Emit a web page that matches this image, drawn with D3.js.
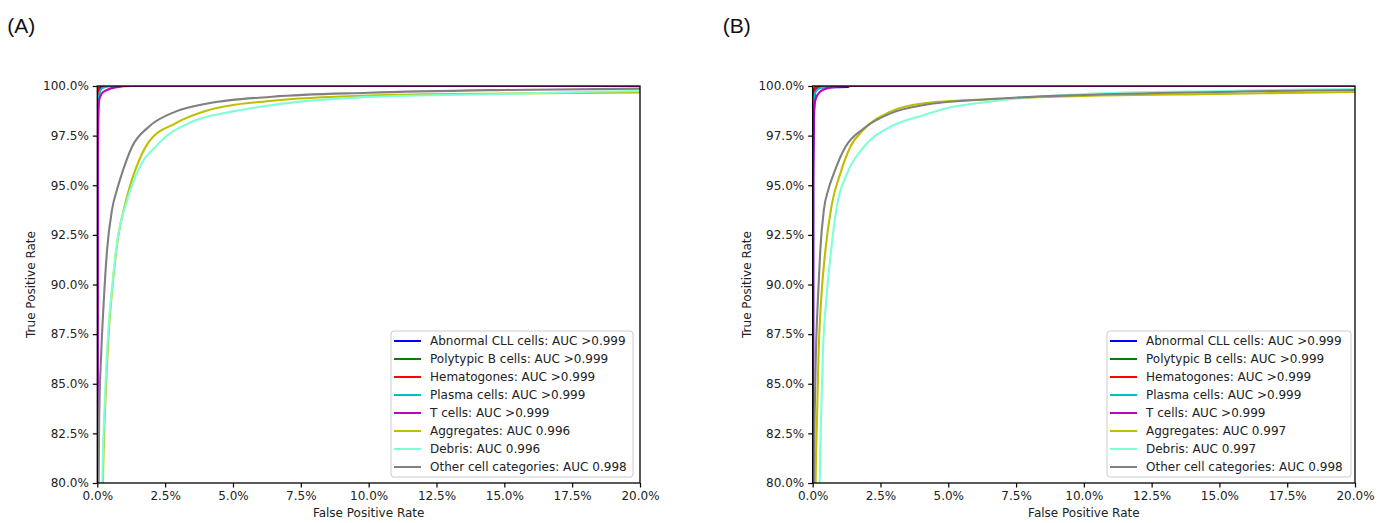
<!DOCTYPE html>
<html>
<head>
<meta charset="utf-8">
<script src="https://cdn.jsdelivr.net/npm/d3@7"></script>
<style>
  body { margin: 0; background: #fff; }
  svg { display: block; }
  text { font-family: "DejaVu Sans", sans-serif; fill: #222; }
</style>
</head>
<body>
<svg width="1388" height="523"></svg>
<script>
// class names and colours (same order in both panels)
const classNames = ['Abnormal CLL cells', 'Polytypic B cells', 'Hematogones', 'Plasma cells',
  'T cells', 'Aggregates', 'Debris', 'Other cell categories'];
const classColors = ['#0000ff', '#008000', '#ff0000', '#00bfbf', '#bf00bf', '#bfbf00', '#7fffd4', '#808080'];

const aucA = ['>0.999', '>0.999', '>0.999', '>0.999', '>0.999', '0.996', '0.996', '0.998'];
const aucB = ['>0.999', '>0.999', '>0.999', '>0.999', '>0.999', '0.997', '0.997', '0.998'];

const xTicks = [0, 2.5, 5, 7.5, 10, 12.5, 15, 17.5, 20];
const yTicks = [80, 82.5, 85, 87.5, 90, 92.5, 95, 97.5, 100];

// ROC points [FPR %, TPR %], panel A
const aCLL = [[0, 0], [0.01, 95], [0.03, 99.5], [0.08, 99.85], [0.2, 99.97], [0.4, 100], [100, 100]];
const aPoly = [[0, 0], [0.01, 97], [0.03, 99.8], [0.1, 99.97], [0.2, 100], [100, 100]];
const aHema = [[0, 0], [0.01, 98], [0.03, 99.8], [0.1, 100], [100, 100]];
const aPlasma = [[0, 0], [0.02, 96], [0.06, 99.5], [0.17, 99.88], [0.35, 99.96], [0.6, 100], [100, 100]];
const aT = [[0, 0], [0.02, 96], [0.04, 98.8], [0.07, 99.29], [0.17, 99.63], [0.36, 99.8], [0.66, 99.93], [1.28, 100], [100, 100]];
const aAgg = [[0, 0], [0.21, 80.15], [0.30, 84.18], [0.42, 87.54], [0.57, 90.06], [0.79, 92.58], [0.97, 93.75],
  [1.18, 94.85], [1.40, 95.77], [1.90, 97.19], [2.88, 98.12], [4.11, 98.79], [6.45, 99.26], [10, 99.52], [15, 99.62], [20, 99.68], [100, 100]];
const aDebris = [[0, 0], [0.19, 80.15], [0.28, 84.18], [0.40, 87.54], [0.56, 90.06], [0.78, 92.58], [0.99, 93.75],
  [1.45, 95.6], [2.26, 97.11], [3.49, 98.2], [4.97, 98.71], [6.45, 99.04], [10, 99.45], [15, 99.6], [20, 99.75], [100, 100]];
const aOther = [[0, 0], [0.05, 80.15], [0.07, 83.3], [0.15, 86.7], [0.24, 89.2], [0.36, 91.74], [0.54, 93.75],
  [0.72, 94.75], [0.91, 95.6], [1.28, 96.94], [1.90, 97.95], [2.88, 98.71], [4.11, 99.13], [6.45, 99.46], [10, 99.66], [15, 99.8], [20, 99.87], [100, 100]];

// panel B
const bCLL = [[0, 0], [0.02, 96], [0.09, 99.71], [0.22, 99.93], [1.3, 99.95], [1.35, 100], [100, 100]];
const bPoly = [[0, 0], [0.01, 98], [0.04, 99.85], [0.15, 100], [100, 100]];
const bHema = [[0, 0], [0.01, 99], [0.04, 99.7], [0.1, 99.9], [0.3, 100], [100, 100]];
const bPlasma = [[0, 0], [0.01, 97], [0.03, 99.3], [0.15, 99.8], [0.4, 99.95], [0.8, 100], [100, 100]];
const bT = [[0, 0], [0.02, 95], [0.04, 98.6], [0.1, 99.3], [0.27, 99.71], [0.52, 99.88], [0.9, 99.96], [1.5, 100], [100, 100]];
const bAgg = [[0, 0], [0.11, 80.15], [0.16, 83.3], [0.22, 86.7], [0.31, 89.2], [0.47, 91.74], [0.70, 94.0],
  [1.02, 95.6], [1.39, 96.94], [1.89, 97.82], [2.87, 98.71], [4.11, 99.13], [6.46, 99.33], [10, 99.5], [15, 99.6], [20, 99.7], [100, 100]];
const bDebris = [[0, 0], [0.26, 80.15], [0.31, 83.3], [0.38, 86.7], [0.50, 89.2], [0.68, 91.74], [0.90, 94.0],
  [1.27, 95.6], [1.89, 96.94], [2.87, 97.95], [4.11, 98.54], [5, 98.9], [6.46, 99.2], [10, 99.6], [15, 99.75], [20, 99.85], [100, 100]];
const bOther = [[0, 0], [0.04, 80.15], [0.07, 83.3], [0.12, 86.7], [0.19, 89.2], [0.28, 91.74], [0.41, 93.75],
  [0.58, 94.8], [0.78, 95.6], [1.21, 96.94], [1.89, 97.87], [2.87, 98.62], [4.11, 99.04], [6.46, 99.33], [10, 99.55], [15, 99.7], [20, 99.8], [100, 100]];

const svg = d3.select('svg');
const pct = d => d.toFixed(1) + '%';

function drawPanel(opts) {
  const { id, label, left, right, top, bottom, curves, auc, legendBox } = opts;
  const x = d3.scaleLinear().domain([0, 20]).range([left, right]);
  const y = d3.scaleLinear().domain([80, 100]).range([bottom, top]);

  svg.append('text')
    .attr('x', left - 90).attr('y', 33)
    .style('font-family', '"Liberation Sans", Arial, sans-serif')
    .style('font-size', '21px')
    .style('fill', '#111')
    .text(label);

  svg.append('clipPath').attr('id', 'clip-' + id)
    .append('rect')
    .attr('x', left).attr('y', top)
    .attr('width', right - left).attr('height', bottom - top);

  const line = d3.line()
    .x(d => x(d[0]))
    .y(d => y(d[1]))
    .curve(d3.curveMonotoneX);

  const g = svg.append('g').attr('clip-path', `url(#clip-${id})`);
  curves.forEach((pts, i) => {
    g.append('path')
      .attr('d', line(pts))
      .attr('fill', 'none')
      .attr('stroke', classColors[i])
      .attr('stroke-width', 2.1)
      .attr('stroke-linejoin', 'round');
  });

  // axes
  const xAxis = svg.append('g')
    .attr('transform', `translate(0,${bottom})`)
    .call(d3.axisBottom(x).tickValues(xTicks).tickFormat(pct).tickSize(4.5).tickPadding(4));
  const yAxis = svg.append('g')
    .attr('transform', `translate(${left},0)`)
    .call(d3.axisLeft(y).tickValues(yTicks).tickFormat(pct).tickSize(4.5).tickPadding(4));
  [xAxis, yAxis].forEach(a => {
    a.select('.domain').remove();
    a.selectAll('line').attr('stroke', '#000').attr('stroke-width', 1.2);
    a.selectAll('text').style('font-size', '12px').style('font-family', '"DejaVu Sans", sans-serif').attr('fill', '#222');
  });

  // spines
  svg.append('rect')
    .attr('x', left).attr('y', top)
    .attr('width', right - left).attr('height', bottom - top)
    .attr('fill', 'none').attr('stroke', '#000').attr('stroke-width', 1.3);

  svg.append('text')
    .attr('x', (left + right) / 2).attr('y', bottom + 34)
    .attr('text-anchor', 'middle')
    .style('font-size', '12px')
    .text('False Positive Rate');

  svg.append('text')
    .attr('transform', `translate(${left - 62},${(top + bottom) / 2}) rotate(-90)`)
    .attr('text-anchor', 'middle')
    .style('font-size', '12px')
    .text('True Positive Rate');

  // legend
  const lg = svg.append('g');
  lg.append('rect')
    .attr('x', legendBox.x).attr('y', legendBox.y)
    .attr('width', legendBox.w).attr('height', legendBox.h)
    .attr('rx', 3)
    .attr('fill', 'rgba(255,255,255,0.85)')
    .attr('stroke', '#cccccc').attr('stroke-width', 1);
  classNames.forEach((name, i) => {
    const cy = legendBox.y + 10 + i * 18;
    lg.append('line')
      .attr('x1', legendBox.x + 3).attr('x2', legendBox.x + 30)
      .attr('y1', cy).attr('y2', cy)
      .attr('stroke', classColors[i]).attr('stroke-width', 2);
    lg.append('text')
      .attr('x', legendBox.x + 39).attr('y', cy + 4.3)
      .style('font-size', '12px')
      .text(`${name}: AUC ${auc[i]}`);
  });
}

drawPanel({
  id: 'a', label: '(A)', left: 97.3, right: 640, top: 86, bottom: 483,
  curves: [aCLL, aPoly, aHema, aPlasma, aT, aAgg, aDebris, aOther],
  auc: aucA,
  legendBox: { x: 391, y: 331, w: 242, h: 146 }
});

drawPanel({
  id: 'b', label: '(B)', left: 812.7, right: 1355, top: 86, bottom: 483,
  curves: [bCLL, bPoly, bHema, bPlasma, bT, bAgg, bDebris, bOther],
  auc: aucB,
  legendBox: { x: 1107, y: 331, w: 244, h: 146 }
});
</script>
</body>
</html>
